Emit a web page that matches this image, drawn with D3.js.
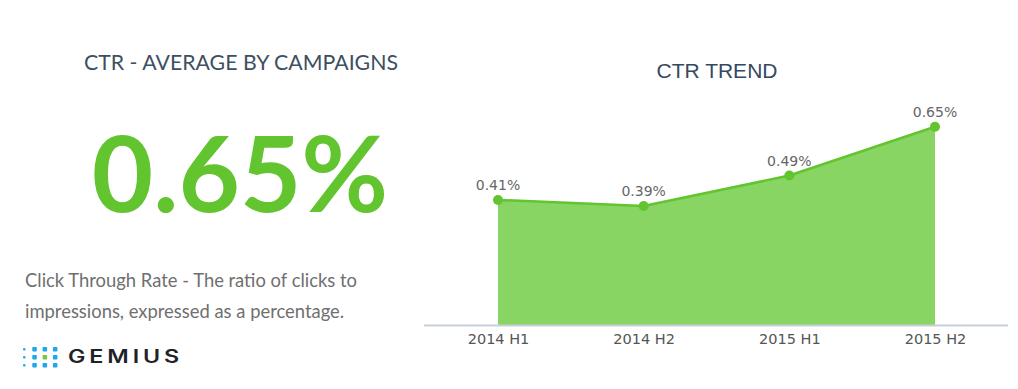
<!DOCTYPE html>
<html>
<head>
<meta charset="utf-8">
<script src="https://cdn.jsdelivr.net/npm/d3@7"></script>
<style>
  html, body { margin: 0; padding: 0; background: #fff; }
  #chart { width: 1018px; height: 389px; }
</style>
</head>
<body>
<div id="chart"></div>
<script>
  // data
  const periods = ["2014 H1", "2014 H2", "2015 H1", "2015 H2"];
  const ctrValues = [0.41, 0.39, 0.49, 0.65];
  const averageCtr = 0.65;
  const description = [
    "Click Through Rate - The ratio of clicks to",
    "impressions, expressed as a percentage."
  ];

  const green = "#62c42f";
  const areaGreen = "#88d563";
  const slate = "#34495e";

  const width = 1018;
  const height = 389;

  const svg = d3
    .select("#chart")
    .append("svg")
    .attr("width", width)
    .attr("height", height);

  svg.append("rect").attr("width", width).attr("height", height).attr("fill", "#fff");

  // left panel
  svg
    .append("text")
    .attr("x", 241)
    .attr("y", 70)
    .attr("text-anchor", "middle")
    .attr("fill", "#3d5060")
    .style("font-family", "Lato")
    .style("font-size", "21.3px")
    .text("CTR - AVERAGE BY CAMPAIGNS");

  svg
    .append("text")
    .attr("x", 240)
    .attr("y", 212)
    .attr("text-anchor", "middle")
    .attr("fill", green)
    .style("font-family", "Lato")
    .style("font-weight", "700")
    .style("font-size", "106px")
    .text(d3.format(".2f")(averageCtr) + "%");

  svg
    .append("g")
    .selectAll("text")
    .data(description)
    .enter()
    .append("text")
    .attr("x", 25)
    .attr("y", (d, i) => 287 + i * 31)
    .attr("fill", "#6f6f6f")
    .style("font-family", "Lato")
    .style("font-size", "18.4px")
    .text((d) => d);

  // gemius logo
  const logo = svg.append("g").attr("transform", "translate(24,349)");
  const dots = [];
  for (let r = 0; r < 3; r++) {
    for (let c = 0; c < 4; c++) dots.push({ r, c });
  }
  logo
    .selectAll("rect")
    .data(dots)
    .enter()
    .append("rect")
    .attr("x", (d) => (d.c === 0 ? -1 : d.c * 10.3 - 2))
    .attr("y", (d) => d.r * 8 - (d.c === 0 ? 1 : 2))
    .attr("width", (d) => (d.c === 0 ? 2.5 : 4.5))
    .attr("height", (d) => (d.c === 0 ? 2.5 : 4.5))
    .attr("rx", (d) => (d.c === 0 ? 1.2 : 0.8))
    .attr("fill", (d) => (d.r === 1 && d.c === 2 ? "#7dc242" : "#1ea6ea"));
  svg
    .append("text")
    .attr("x", 68)
    .attr("y", 363)
    .attr("fill", "#1f2328")
    .attr("textLength", 115)
    .attr("lengthAdjust", "spacingAndGlyphs")
    .style("font-family", "Inter")
    .style("font-weight", "600")
    .style("font-size", "18px")
    .style("letter-spacing", "3px")
    .text("GEMIUS");

  // right panel: trend
  svg
    .append("text")
    .attr("x", 717)
    .attr("y", 78)
    .attr("text-anchor", "middle")
    .attr("fill", slate)
    .style("font-family", "Liberation Sans")
    .style("font-size", "21px")
    .text("CTR TREND");

  const x = d3.scalePoint().domain(periods).range([498, 935]);
  const y = d3.scaleLinear().domain([0, 0.75]).range([325, 325 - 0.75 * 305]);

  const rows = periods.map((p, i) => ({ period: p, value: ctrValues[i] }));

  const area = d3
    .area()
    .x((d) => x(d.period))
    .y0(y(0))
    .y1((d) => y(d.value));

  const line = d3
    .line()
    .x((d) => x(d.period))
    .y((d) => y(d.value));

  svg.append("path").datum(rows).attr("d", area).attr("fill", areaGreen);

  svg
    .append("path")
    .datum(rows)
    .attr("d", line)
    .attr("fill", "none")
    .attr("stroke", green)
    .attr("stroke-width", 2.5)
    .attr("stroke-linejoin", "round");

  svg
    .append("g")
    .selectAll("circle")
    .data(rows)
    .enter()
    .append("circle")
    .attr("cx", (d) => x(d.period))
    .attr("cy", (d) => y(d.value))
    .attr("r", 5)
    .attr("fill", green);

  svg
    .append("g")
    .selectAll("text")
    .data(rows)
    .enter()
    .append("text")
    .attr("x", (d) => x(d.period))
    .attr("y", (d) => y(d.value) - 10)
    .attr("text-anchor", "middle")
    .attr("fill", "#666")
    .style("font-family", "DejaVu Sans")
    .style("font-size", "14px")
    .text((d) => d3.format(".2f")(d.value) + "%");

  // x axis
  const axis = svg
    .append("g")
    .attr("transform", `translate(0,${y(0)})`)
    .call(d3.axisBottom(x).tickSize(0).tickPadding(9));
  axis.select(".domain").remove();
  axis
    .selectAll("text")
    .attr("fill", "#555")
    .style("font-family", "DejaVu Sans")
    .style("font-size", "14.5px");

  svg
    .append("line")
    .attr("x1", 424)
    .attr("x2", 1008)
    .attr("y1", y(0) + 0.5)
    .attr("y2", y(0) + 0.5)
    .attr("stroke", "#c6d0dc")
    .attr("stroke-width", 2);
</script>
</body>
</html>
